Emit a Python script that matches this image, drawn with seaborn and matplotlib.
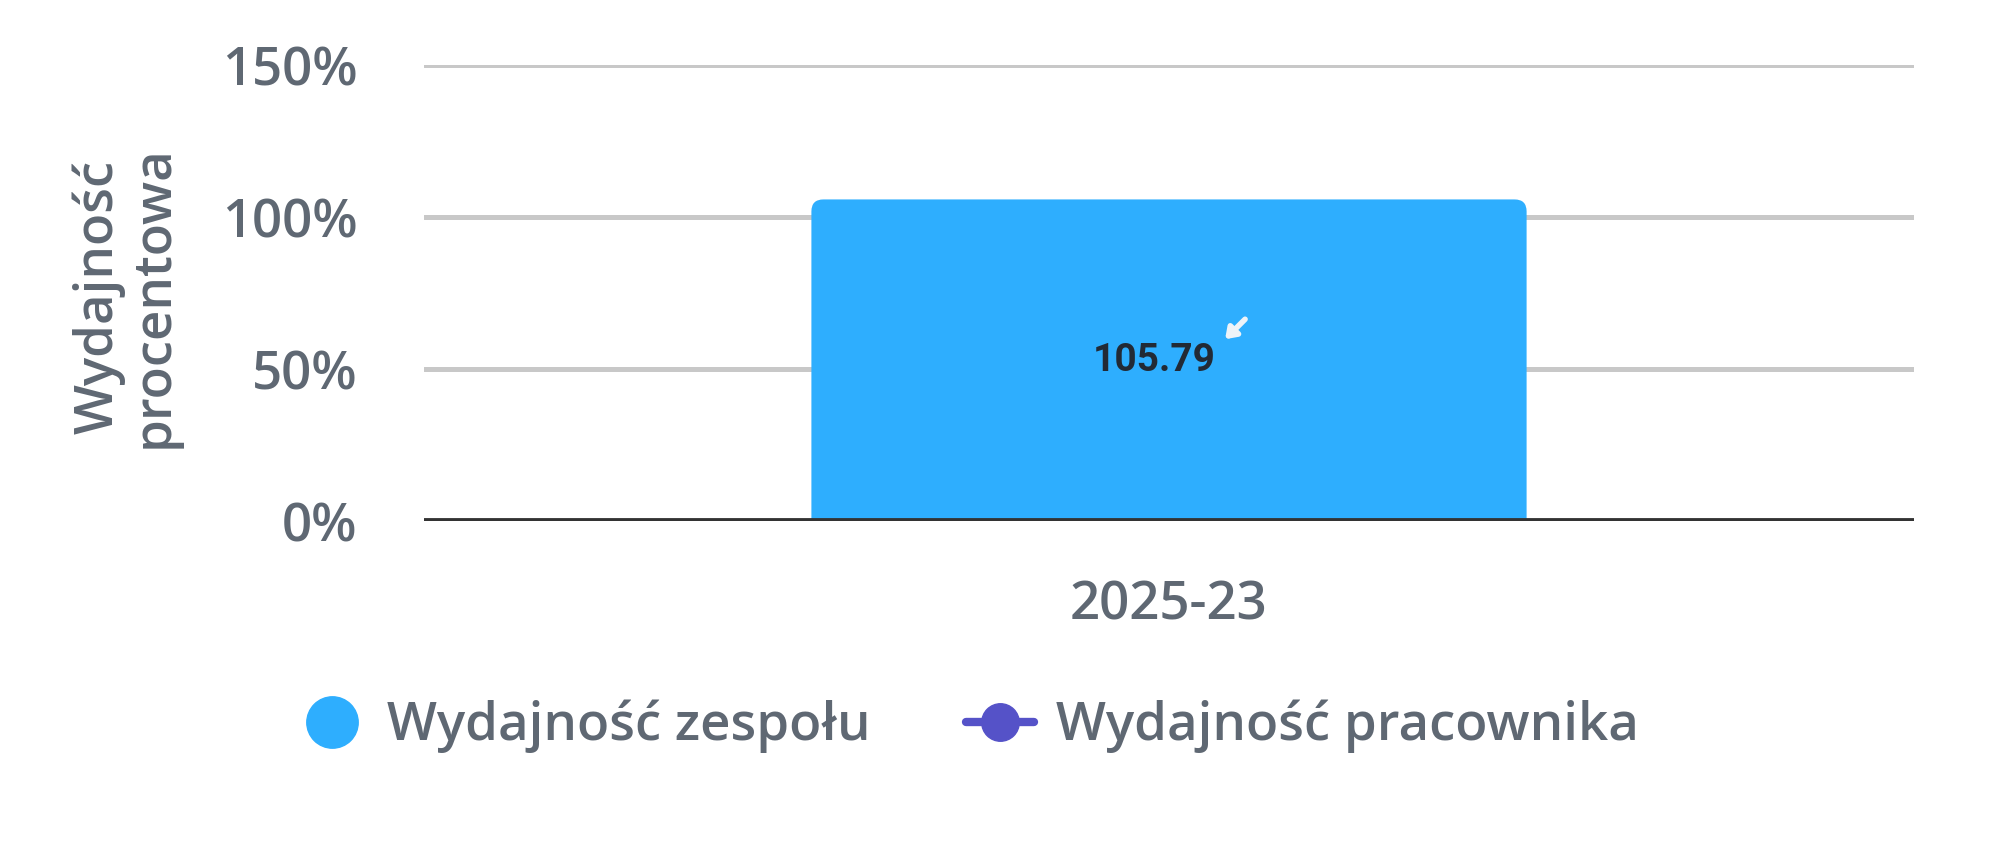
import numpy as np
import pandas as pd
import matplotlib
matplotlib.use("Agg")
import matplotlib.pyplot as plt
import seaborn as sns
from matplotlib.lines import Line2D
from matplotlib.patches import FancyBboxPatch

# data
periods = ["2025-23"]
team_perf = [105.79]
employee_perf = [np.nan]  # no points shown for the employee series
y_ticks = [0, 50, 100, 150]

team_color = "#2eaefe"
employee_color = "#5552c8"
text_color = "#5f6873"

sns.set_theme(style="white")
plt.rcParams["font.family"] = ["Open Sans", "DejaVu Sans"]
plt.rcParams["font.weight"] = 600

df = pd.DataFrame({"period": periods, "team": team_perf, "employee": employee_perf})

fig = plt.figure(figsize=(20, 8.48), dpi=100)
ax = fig.add_axes([0.212, 0.3856, 0.745, 0.5377])

sns.barplot(data=df, x="period", y="team", color=team_color, width=0.48,
            saturation=1, ax=ax, zorder=3)

ax.set_ylim(0, 150)
ax.set_xlim(-0.5, 0.5)
ax.set_yticks(y_ticks)
ax.set_yticklabels([f"{t}%" for t in y_ticks])
for t in y_ticks[1:]:
    ax.axhline(t, color="#c8c8c8", lw=3.6, zorder=1)
ax.axhline(0, color="#333333", lw=4.2, zorder=4)

# round the top corners of the bar (swap the plain rectangle for a rounded one)
bar = ax.patches[0]
fig.canvas.draw()
bb = ax.get_window_extent()
x_per_px = 1.0 / bb.width
y_per_px = 150.0 / bb.height
r_px = 12
rounded = FancyBboxPatch((bar.get_x(), -r_px * y_per_px), bar.get_width(),
                         bar.get_height() + r_px * y_per_px,
                         boxstyle=f"round,pad=0,rounding_size={r_px * x_per_px}",
                         mutation_aspect=y_per_px / x_per_px,
                         facecolor=team_color, edgecolor="none", zorder=3)
bar.set_visible(False)
ax.add_patch(rounded)

for s in ax.spines.values():
    s.set_visible(False)
ax.tick_params(axis="y", length=0, pad=48, labelsize=38, labelcolor=text_color)
ax.tick_params(axis="x", length=0, pad=42, labelsize=38, labelcolor=text_color)
ax.set_xlabel("")
ax.set_ylabel("")

fig.text(0.063, 0.65, "Wydajność\nprocentowa", rotation=90, ha="center", va="center",
         fontsize=38, color=text_color, multialignment="center", linespacing=1.05)

# value label in the middle of the bar, with the small down-left arrow
cx = bar.get_x() + bar.get_width() / 2
lx, ly = cx - 0.01, team_perf[0] / 2
ax.text(lx, ly, f"{team_perf[0]:.2f}", ha="center", va="center",
        fontsize=28, fontweight="bold", color="#222a35", family="Roboto", zorder=5)
tip = (lx + 71 * x_per_px, ly + 21 * y_per_px)
ax.annotate("", xy=tip, xytext=(20, 20), textcoords="offset pixels",
            arrowprops=dict(arrowstyle="-|>,head_length=0.5,head_width=0.35",
                            color="#eef3f8", lw=4, shrinkA=0, shrinkB=0),
            zorder=5)

handles = [
    Line2D([], [], marker="o", color=team_color, linestyle="none", markersize=37),
    Line2D([], [], marker="o", color=employee_color, lw=6, markersize=27),
]
fig.legend(handles, ["Wydajność zespołu", "Wydajność pracownika"], loc="center",
           bbox_to_anchor=(0.484, 0.143), ncol=2, frameon=False, fontsize=38,
           labelcolor=text_color, handlelength=1.3, handletextpad=0.4,
           columnspacing=1.8)

fig.savefig("out.png", dpi=100)
